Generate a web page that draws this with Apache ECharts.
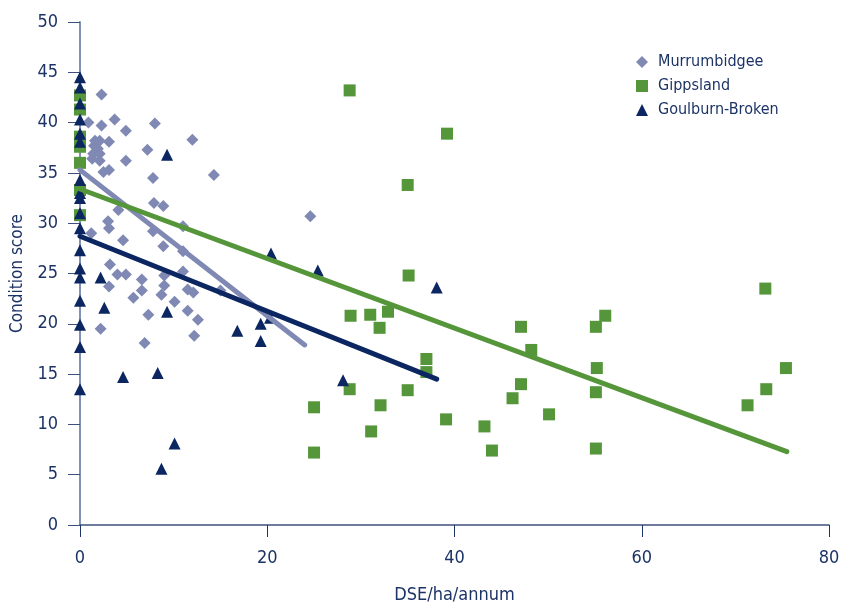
<!DOCTYPE html>
<html>
<head>
<meta charset="utf-8">
<script src="https://cdn.jsdelivr.net/npm/echarts@6/dist/echarts.min.js"></script>
<style>html,body{margin:0;padding:0;background:#fff;}#c{width:844px;height:609px;}</style>
</head>
<body>
<div id="c"></div>
<script>
const seriesNames = ['Murrumbidgee', 'Gippsland', 'Goulburn-Broken'];

const murrumbidgee = [
  [2.3,42.8],[0.9,40.0],[2.3,39.7],[3.7,40.3],[4.9,39.2],[8.0,39.9],[12.0,38.3],
  [1.6,38.2],[2.1,38.2],[3.1,38.1],[1.5,37.7],[1.9,37.4],[1.4,36.9],[2.1,36.9],
  [4.9,36.2],[7.2,37.3],[1.3,36.4],[2.1,36.2],[2.5,35.1],[3.1,35.3],[7.8,34.5],
  [14.3,34.8],[4.1,31.3],[3.0,30.2],[3.1,29.5],[1.2,29.0],[4.6,28.3],[3.2,25.9],
  [4.0,24.9],[4.9,24.9],[3.1,23.7],[6.6,24.4],[5.7,22.6],[6.6,23.3],[7.3,20.9],
  [2.2,19.5],[6.9,18.1],[7.9,32.0],[8.9,31.7],[7.8,29.2],[8.9,27.7],[11.0,29.7],
  [11.0,27.2],[11.0,25.2],[9.0,24.8],[9.0,23.8],[8.7,22.9],[11.5,23.4],[12.1,23.1],
  [10.1,22.2],[11.5,21.3],[12.6,20.4],[12.2,18.8],[15.0,23.3],[24.6,30.7]
];

const gippsland = [
  [0,42.7],[0,41.3],[0,38.6],[0,37.6],[0,36.0],[0,33.3],[0,30.8],
  [28.8,43.2],[39.2,38.9],[35.0,33.8],[35.1,24.8],[28.9,20.8],[31.0,20.9],[32.9,21.2],
  [32.0,19.6],[37.0,16.5],[37.0,15.2],[28.8,13.5],[35.0,13.4],[25.0,11.7],[32.1,11.9],
  [31.1,9.3],[25.0,7.2],[39.1,10.5],[43.2,9.8],[44.0,7.4],[46.2,12.6],[47.1,14.0],
  [47.1,19.7],[48.2,17.4],[50.1,11.0],[56.1,20.8],[55.1,19.7],[55.2,15.6],[55.1,13.2],
  [55.1,7.6],[73.2,23.5],[75.4,15.6],[73.3,13.5],[71.3,11.9]
];

const goulburnBroken = [
  [0,44.5],[0,43.5],[0,41.9],[0,40.3],[0,38.9],[0,38.1],[0,34.3],[0,33.0],[0,32.5],
  [0,31.0],[0,29.5],[0,27.3],[0,25.5],[0,24.6],[0,22.3],[0,19.9],[0,17.7],[0,13.5],
  [2.2,24.6],[2.6,21.6],[9.3,21.2],[4.6,14.7],[8.3,15.1],[10.1,8.1],[8.7,5.6],
  [9.3,36.8],[20.4,27.0],[25.4,25.3],[38.1,23.6],[16.8,19.3],[19.3,20.0],[19.3,18.3],
  [28.1,14.4],[20.3,20.6]
];

const murrumbidgeeTrend = [[0,35.3],[24.0,17.9]];
const gippslandTrend = [[0,33.4],[75.5,7.3]];
const goulburnBrokenTrend = [[0,28.7],[38.1,14.5]];

const xTicks = [0, 20, 40, 60, 80];
const yTicks = [0, 5, 10, 15, 20, 25, 30, 35, 40, 45, 50];

const FONT = "'Liberation Sans Narrow', 'DejaVu Sans Condensed', 'Roboto', sans-serif";
const TXT = '#1c3366';
const C_MUR = '#7f89b4';
const C_GIP = '#55963a';
const C_GB = '#0b2660';

const chart = echarts.init(document.getElementById('c'), null, {renderer: 'canvas'});
chart.setOption({
  animation: false,
  backgroundColor: '#ffffff',
  textStyle: {fontFamily: FONT, color: TXT},
  grid: {left: 80, right: 15, top: 22, bottom: 80, containLabel: false},
  legend: {
    data: [
      {name: seriesNames[0], icon: 'diamond'},
      {name: seriesNames[1], icon: 'rect'},
      {name: seriesNames[2], icon: 'triangle'}
    ],
    orient: 'vertical',
    left: 631,
    top: 49,
    itemWidth: 12,
    itemHeight: 12,
    itemGap: 8,
    textStyle: {fontFamily: FONT, fontSize: 16, color: TXT, padding: [0, 0, 0, 5]}
  },
  xAxis: {
    type: 'value',
    min: xTicks[0],
    max: xTicks[xTicks.length - 1],
    interval: 20,
    name: 'DSE/ha/annum',
    nameLocation: 'middle',
    nameGap: 61,
    nameTextStyle: {fontFamily: FONT, fontSize: 18, color: TXT},
    splitLine: {show: false},
    axisLine: {onZero: false, lineStyle: {color: '#3f507e', width: 1.5}},
    axisTick: {show: true, inside: false, length: 12, lineStyle: {color: '#1c3366', width: 1}},
    axisLabel: {fontFamily: FONT, fontSize: 18, color: TXT, margin: 24}
  },
  yAxis: {
    type: 'value',
    min: yTicks[0],
    max: yTicks[yTicks.length - 1],
    interval: 5,
    name: 'Condition score',
    nameLocation: 'middle',
    nameGap: 54,
    nameRotate: 90,
    nameTextStyle: {fontFamily: FONT, fontSize: 17, color: TXT},
    splitLine: {show: false},
    axisLine: {onZero: false, lineStyle: {color: '#8390b5', width: 2}},
    axisTick: {show: true, inside: false, length: 12, lineStyle: {color: '#3f507e', width: 1}},
    axisLabel: {fontFamily: FONT, fontSize: 18, color: TXT, margin: 22}
  },
  series: [
    {
      name: seriesNames[0], type: 'scatter', data: murrumbidgee,
      symbol: 'diamond', symbolSize: 12, itemStyle: {color: C_MUR, opacity: 1}, z: 2
    },
    {
      name: seriesNames[1], type: 'scatter', data: gippsland,
      symbol: 'rect', symbolSize: 12, itemStyle: {color: C_GIP, opacity: 1}, z: 2
    },
    {
      name: seriesNames[2], type: 'scatter', data: goulburnBroken,
      symbol: 'triangle', symbolSize: 12, itemStyle: {color: C_GB, opacity: 1}, z: 3
    },
    {
      name: 'mur-trend', type: 'line', data: murrumbidgeeTrend, showSymbol: false, symbol: 'none',
      lineStyle: {color: C_MUR, width: 5, cap: 'round'}, z: 4, silent: true
    },
    {
      name: 'gip-trend', type: 'line', data: gippslandTrend, showSymbol: false, symbol: 'none',
      lineStyle: {color: C_GIP, width: 5, cap: 'round'}, z: 4, silent: true
    },
    {
      name: 'gb-trend', type: 'line', data: goulburnBrokenTrend, showSymbol: false, symbol: 'none',
      lineStyle: {color: C_GB, width: 5, cap: 'round'}, z: 4, silent: true
    }
  ]
});
</script>
</body>
</html>
